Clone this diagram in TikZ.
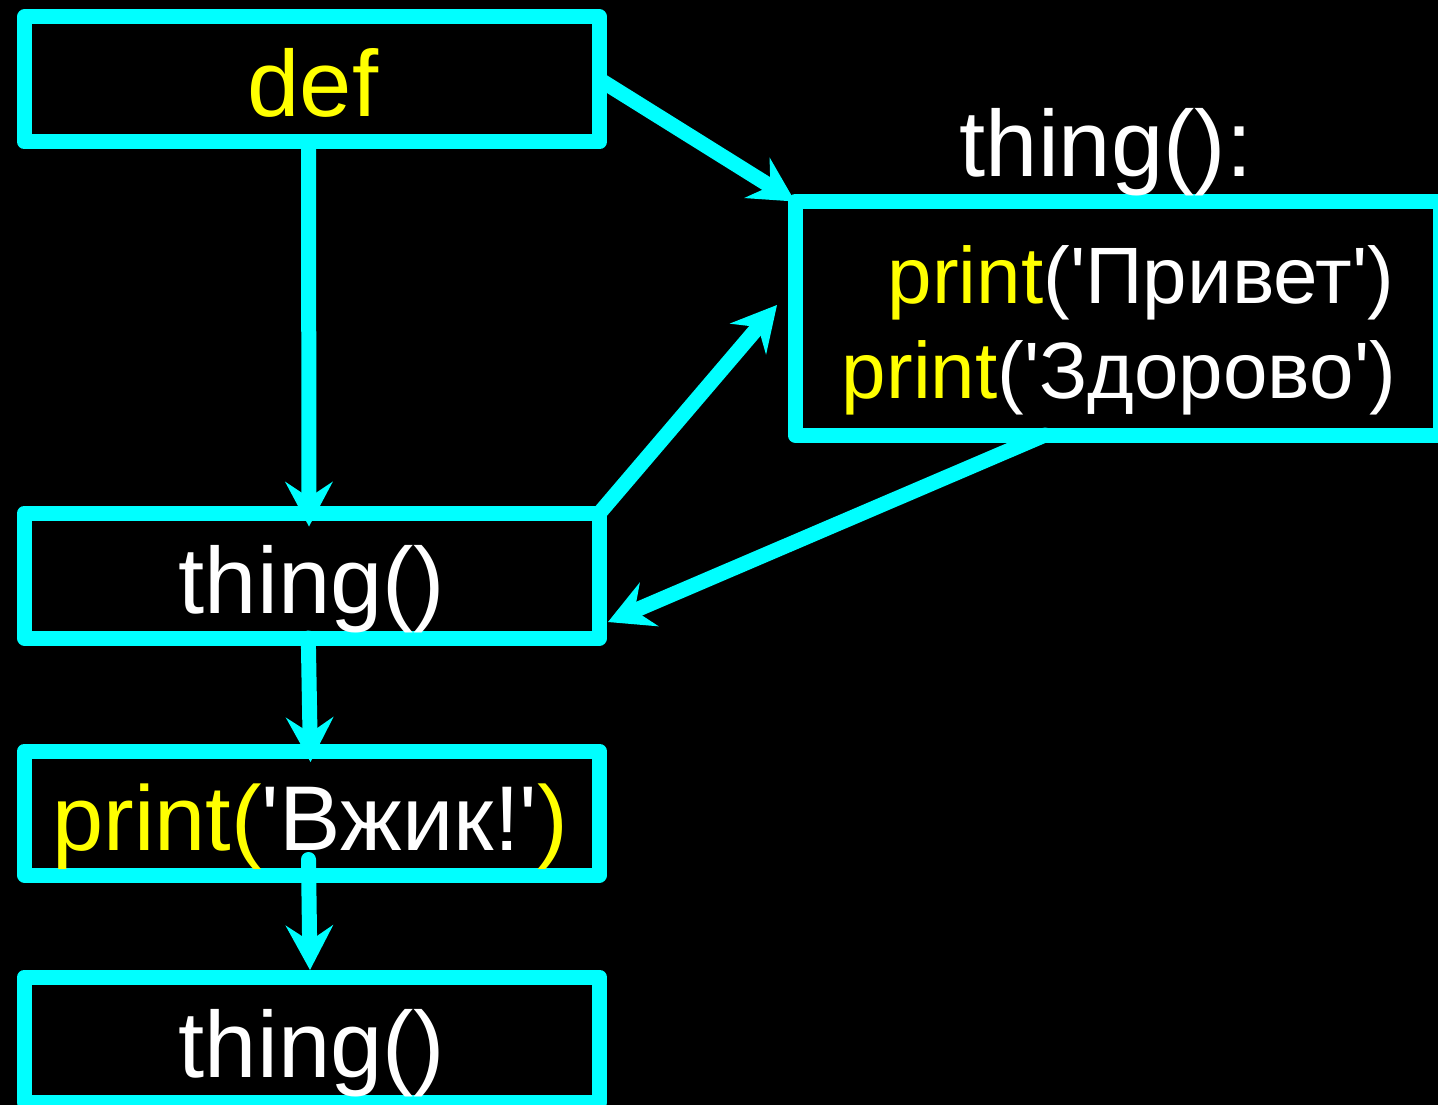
\documentclass[tikz,border=0pt]{standalone}
\usepackage{fontspec}
\setmainfont{Liberation Sans}
\usetikzlibrary{arrows.meta}
\definecolor{cy}{HTML}{00FFFF}
\definecolor{ye}{HTML}{FFFF00}
\newcommand{\sq}{\textquotesingle}
\tikzset{
  box/.style={draw=cy, line width=15pt, line join=round, inner sep=0pt, outer sep=0pt, anchor=center},
  big/.style={inner sep=0pt, outer sep=0pt, font=\fontsize{94}{110}\selectfont},
  small/.style={inner sep=0pt, outer sep=0pt, font=\fontsize{80}{95}\selectfont},
  arr/.style={draw=cy, line width=15pt, line cap=round,
    -{Stealth[length=45pt, width=48pt, inset=16pt, line width=0pt]}}
}
\begin{document}
\begin{tikzpicture}[x=1pt,y=-1pt]
\fill[black] (0,0) rectangle (1438,1105);
\useasboundingbox (0,0) rectangle (1438,1105);
% boxes
\node[box, minimum width=575pt, minimum height=125pt] (def) at (312,79.5) {};
\node[box, minimum width=575pt, minimum height=125pt] (call1) at (312,575.5) {};
\node[box, minimum width=575pt, minimum height=124pt] (vzhik) at (312,813) {};
\node[box, minimum width=575pt, minimum height=125pt] (call2) at (312,1039.5) {};
\node[box, minimum width=645pt, minimum height=233.5pt] (body) at (1117.5,318.25) {};
% texts
\node[big, anchor=base, text=ye] (tdef) at (313,117) {def};
\node[big, anchor=base, text=white] (tcall1) at (312,613) {thing()};
\node[big, anchor=base, text=white, font=\fontsize{92}{110}\selectfont] (tvzhik) at (310,850) {\textcolor{ye}{print(}\sq Вжик!\sq\textcolor{ye}{)}};
\node[big, anchor=base, text=white] (tcall2) at (312,1077) {thing()};
\node[big, anchor=base, text=white] (thead) at (1106,177) {thing():};
\node[small, anchor=base east, text=white] (tpriv) at (1394,303) {\textcolor{ye}{print}(\sq Привет\sq)};
\node[small, anchor=base east, text=white] (tzdor) at (1396,398) {\textcolor{ye}{print}(\sq Здорово\sq)};
% connector ends
\coordinate (t3) at (777,305);
\coordinate (t4) at (608,622);
\coordinate (s6) at (308.5,859.5);
\coordinate (t6) at (310,970);
% arrows
\draw[arr] (def.east) -- (body.north west);
\draw[arr] ([xshift=-3.5pt]def.south) -- ([xshift=-3pt,yshift=-13.5pt]call1.north);
\draw[arr] (call1.north east) -- (t3);
\draw[arr] ([xshift=-72.5pt]body.south) -- (t4);
\draw[arr] ([xshift=-3.7pt]call1.south) -- ([xshift=-1.5pt,yshift=-11pt]vzhik.north);
\draw[arr] (s6) -- (t6);
\end{tikzpicture}
\end{document}
